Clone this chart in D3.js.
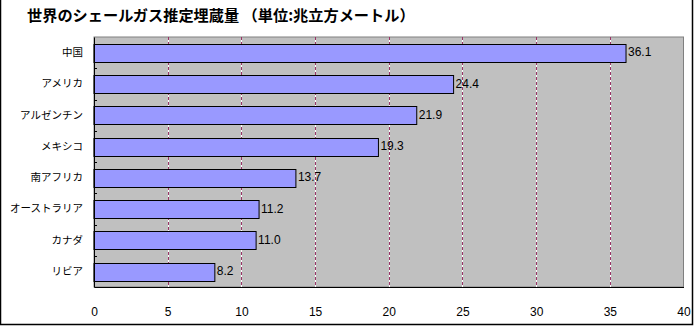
<!DOCTYPE html>
<html><head><meta charset="utf-8">
<script src="https://cdn.jsdelivr.net/npm/d3@7"></script>
<style>
body{margin:0;background:#fff;}
svg{display:block;font-family:"Noto Sans CJK JP","Noto Sans",sans-serif;}
</style></head><body>
<svg id="c" width="695" height="326"></svg>
<script>
const categories = ["中国","アメリカ","アルゼンチン","メキシコ","南アフリカ","オーストラリア","カナダ","リビア"];
const values = [36.1, 24.4, 21.9, 19.3, 13.7, 11.2, 11.0, 8.2];
const xTicks = [0,5,10,15,20,25,30,35,40];
const title = "世界のシェールガス推定埋蔵量 （単位:兆立方メートル）";

const svg = d3.select("#c");
const L=94, R=683.5, T=37, B=287;
const x = d3.scaleLinear().domain([0,40]).range([L,R]);
const y = d3.scaleBand().domain(categories).range([T,B]).paddingInner(0.44).paddingOuter(0.22);

// outer border
svg.append("path").attr("d","M0.5,0 V324.5 H692.5 V0").attr("fill","none").attr("stroke","#000").attr("stroke-width",1.5);

// title
svg.append("text").attr("x",27).attr("y",21).attr("font-size",15.2).attr("font-weight","bold").text(title);

// plot bg
svg.append("rect").attr("x",L).attr("y",T).attr("width",R-L).attr("height",B-T).attr("fill","#c0c0c0").attr("stroke","#808080");

// gridlines
const grid = svg.append("g");
xTicks.filter(t=>t>0&&t<40).forEach(t=>{
  grid.append("line").attr("x1",Math.round(x(t))+0.5).attr("x2",Math.round(x(t))+0.5).attr("y1",T).attr("y2",B).attr("stroke","#fff");
  grid.append("line").attr("x1",Math.round(x(t))+0.5).attr("x2",Math.round(x(t))+0.5).attr("y1",T).attr("y2",B).attr("stroke","#993366").attr("stroke-dasharray","3,2");
});

// bars
svg.append("g").selectAll("rect").data(categories).join("rect")
  .attr("x",x(0)).attr("y",d=>Math.round(y(d))+0.5)
  .attr("width",(d,i)=>x(values[i])-x(0)).attr("height",Math.round(y.bandwidth()))
  .attr("fill","#9999ff").attr("stroke","#000").attr("stroke-width",1);

// value labels
svg.append("g").selectAll("text").data(categories).join("text")
  .attr("x",(d,i)=>x(values[i])+2).attr("y",d=>y(d)+y.bandwidth()/2+0.5)
  .attr("dominant-baseline","middle").attr("font-size",12).attr("font-family","'Liberation Sans',Arial,sans-serif")
  .text((d,i)=>values[i].toFixed(1));

// y axis
const yAxis = d3.axisLeft(y).tickSize(0).tickPadding(11);
const gy = svg.append("g").attr("transform",`translate(${L},0)`).call(yAxis);
gy.select(".domain").attr("stroke","#000");
gy.selectAll("text").attr("font-size",10.5).attr("font-family","'Noto Sans CJK JP',sans-serif");
// boundary ticks (inward)
const bounds = categories.slice(1).map(c=>y(c)-y.step()*y.paddingInner()/2);
gy.selectAll(".bt").data(bounds).join("line").attr("class","bt")
  .attr("x1",0).attr("x2",3).attr("y1",d=>Math.round(d)+0.5).attr("y2",d=>Math.round(d)+0.5).attr("stroke","#000");

// x axis
const xAxis = d3.axisBottom(x).tickValues(xTicks).tickSize(0).tickPadding(20);
const gx = svg.append("g").attr("transform",`translate(0,${B})`).call(xAxis);
gx.select(".domain").attr("stroke","#000");
gx.selectAll("text").attr("font-size",12).attr("font-family","'Liberation Sans',Arial,sans-serif");
</script></body></html>
